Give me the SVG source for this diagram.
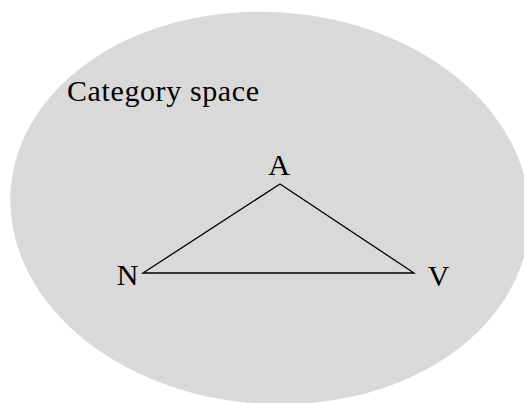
<svg xmlns="http://www.w3.org/2000/svg" width="524" height="403" viewBox="0 0 524 403">
<style>
.lbl{font-family:"Liberation Serif","Times New Roman",serif;font-size:30px;fill:#000}
.edge{stroke:#000;stroke-width:1.3;fill:none}
</style>
<rect width="524" height="403" fill="#fff"/>
<g id="space">
<ellipse cx="270" cy="208" rx="260" ry="196" transform="rotate(4 270 208)" fill="#d9d9d9"/>
<text class="lbl" x="67" y="101" textLength="192" lengthAdjust="spacing">Category space</text>
</g>
<g id="connectors">
<path class="edge" d="M 143 273 L 280 184 L 414 273 Z"/>
</g>
<g id="node-A"><text class="lbl" x="279" y="175" text-anchor="middle">A</text></g>
<g id="node-N"><text class="lbl" x="127.5" y="285" text-anchor="middle">N</text></g>
<g id="node-V"><text class="lbl" x="438.5" y="286" text-anchor="middle">V</text></g>
</svg>
